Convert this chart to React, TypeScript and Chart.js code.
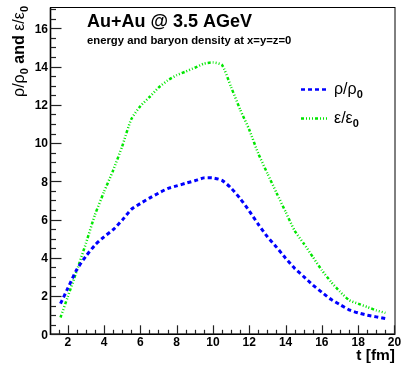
import { useEffect, useRef } from "react";
import { Chart, registerables } from "chart.js";

Chart.register(...registerables);

// time after first contact [fm]
const times = [
  1.6, 2, 2.5, 3, 3.5, 4, 4.5, 5, 5.5, 6, 6.5, 7, 7.5, 8, 8.5, 9, 9.5, 10,
  10.5, 11, 11.5, 12, 12.5, 13, 13.5, 14, 14.5, 15, 15.5, 16, 16.5, 17, 17.5,
  18, 18.5, 19, 19.5,
];
// baryon density rho/rho0 at x=y=z=0
const rhoRatio = [
  1.6, 2.4, 3.39, 4.08, 4.67, 5.1, 5.47, 5.97, 6.53, 6.84, 7.12, 7.38, 7.62,
  7.76, 7.9, 8.03, 8.18, 8.18, 8.05, 7.65, 7.1, 6.45, 5.75, 5.1, 4.56, 3.98,
  3.45, 3.02, 2.58, 2.2, 1.83, 1.55, 1.28, 1.12, 1.0, 0.91, 0.82,
];
// energy density eps/eps0 at x=y=z=0
const epsRatio = [
  0.88, 1.96, 3.33, 4.75, 6.25, 7.45, 8.57, 9.83, 11.25, 11.93, 12.4, 12.9,
  13.27, 13.55, 13.74, 13.94, 14.15, 14.22, 14.08, 12.93, 11.75, 10.7, 9.45,
  8.41, 7.4, 6.41, 5.42, 4.75, 4.05, 3.35, 2.75, 2.23, 1.79, 1.6, 1.43, 1.25,
  1.12,
];

const xTickValues = [2, 4, 6, 8, 10, 12, 14, 16, 18, 20];
const yTickValues = [0, 2, 4, 6, 8, 10, 12, 14, 16];
const minorStep = 0.5;

const titleText = "Au+Au @ 3.5 AGeV";
const subtitleText = "energy and baryon density at x=y=z=0";
const xAxisTitle = "t [fm]";

const FONT = '"Liberation Sans", Arial, Helvetica, sans-serif';

type Piece = { text: string; font: string; dy: number };

function pieceWidth(ctx: CanvasRenderingContext2D, pieces: Piece[]) {
  let w = 0;
  for (const p of pieces) {
    ctx.font = p.font;
    w += ctx.measureText(p.text).width;
  }
  return w;
}

function drawPieces(
  ctx: CanvasRenderingContext2D,
  pieces: Piece[],
  x: number,
  y: number
) {
  let cx = x;
  for (const p of pieces) {
    ctx.font = p.font;
    ctx.fillText(p.text, cx, y + p.dy);
    cx += ctx.measureText(p.text).width;
  }
}

const reg = (s: number) => `${s}px ${FONT}`;
const bold = (s: number) => `bold ${s}px ${FONT}`;

const rhoLabel: Piece[] = [
  { text: "ρ/ρ", font: reg(16), dy: 0 },
  { text: "0", font: bold(11), dy: 4 },
];
const epsLabel: Piece[] = [
  { text: "ε/ε", font: reg(16), dy: 0 },
  { text: "0", font: bold(11), dy: 4 },
];
const yTitle: Piece[] = [
  { text: "ρ/ρ", font: reg(16), dy: 0 },
  { text: "0", font: bold(11), dy: 4 },
  { text: " and ", font: bold(16), dy: 0 },
  { text: "ε/ε", font: reg(16), dy: 0 },
  { text: "0", font: bold(11), dy: 4 },
];

const framePlugin = {
  id: "rootFrame",
  afterDatasetsDraw(chart: any) {
    const ctx: CanvasRenderingContext2D = chart.ctx;
    const { left, right, top, bottom } = chart.chartArea;
    const xs = chart.scales.x;
    const ys = chart.scales.y;
    ctx.save();
    ctx.strokeStyle = "#000";
    ctx.fillStyle = "#000";

    // frame
    ctx.lineWidth = 1;
    ctx.strokeRect(left, top, right - left, bottom - top);
    ctx.lineWidth = 1.6;
    ctx.beginPath();
    ctx.moveTo(left, top);
    ctx.lineTo(left, bottom);
    ctx.lineTo(right, bottom);
    ctx.stroke();

    // y ticks (inside)
    ctx.lineWidth = 1.2;
    ctx.strokeStyle = "#222";
    for (let v = ys.min; v <= ys.max + 1e-9; v += minorStep) {
      const py = Math.round(ys.getPixelForValue(v)) + 0.5;
      const major = yTickValues.some((t) => Math.abs(t - v) < 1e-6);
      ctx.beginPath();
      ctx.moveTo(left, py);
      ctx.lineTo(left + (major ? 11 : 5.5), py);
      ctx.stroke();
    }
    // x ticks (inside)
    const x0 = Math.ceil(xs.min / minorStep) * minorStep;
    for (let v = x0; v <= xs.max + 1e-9; v += minorStep) {
      const px = Math.round(xs.getPixelForValue(v)) + 0.5;
      const major = xTickValues.some((t) => Math.abs(t - v) < 1e-6);
      ctx.beginPath();
      ctx.moveTo(px, bottom);
      ctx.lineTo(px, bottom - (major ? 9 : 4.5));
      ctx.stroke();
    }

    // tick labels
    ctx.fillStyle = "#000";
    ctx.font = bold(12);
    ctx.textAlign = "right";
    ctx.textBaseline = "alphabetic";
    for (const v of yTickValues) {
      ctx.fillText(String(v), left - 2.5, ys.getPixelForValue(v) + 4.3);
    }
    ctx.textAlign = "center";
    for (const v of xTickValues) {
      ctx.fillText(String(v), xs.getPixelForValue(v), bottom + 11.5);
    }

    // axis titles
    ctx.font = bold(15.5);
    ctx.textAlign = "right";
    ctx.fillText(xAxisTitle, right, 360);

    ctx.textAlign = "left";
    const tw = pieceWidth(ctx, yTitle);
    ctx.save();
    ctx.translate(24, 6 + tw);
    ctx.rotate(-Math.PI / 2);
    drawPieces(ctx, yTitle, 0, 0);
    ctx.restore();

    // title and subtitle
    ctx.font = bold(18);
    ctx.fillText(titleText, 87, 27);
    ctx.font = bold(11.3);
    ctx.fillText(subtitleText, 87, 44);

    // legend
    const ds = chart.data.datasets;
    const rows = [
      { y: 89.5, label: rhoLabel, set: ds[0] },
      { y: 118.5, label: epsLabel, set: ds[1] },
    ];
    for (const r of rows) {
      ctx.save();
      ctx.strokeStyle = r.set.borderColor;
      ctx.lineWidth = 2.5;
      ctx.setLineDash(r.set.borderDash);
      ctx.beginPath();
      ctx.moveTo(301, r.y);
      ctx.lineTo(328, r.y);
      ctx.stroke();
      ctx.restore();
      ctx.fillStyle = "#000";
      drawPieces(ctx, r.label, 334, r.y + 4.5);
    }
    ctx.restore();
  },
};

export default function App() {
  const canvasRef = useRef<HTMLCanvasElement | null>(null);

  useEffect(() => {
    const canvas = canvasRef.current;
    if (!canvas) return;
    const chart = new Chart(canvas, {
      type: "scatter",
      data: {
        datasets: [
          {
            label: "ρ/ρ0",
            data: times.map((t, i) => ({ x: t, y: rhoRatio[i] })),
            showLine: true,
            borderColor: "#0000ff",
            borderWidth: 3,
            borderDash: [4, 3],
            pointRadius: 0,
            tension: 0.2,
            fill: false,
          },
          {
            label: "ε/ε0",
            data: times.map((t, i) => ({ x: t, y: epsRatio[i] })),
            showLine: true,
            borderColor: "#00e600",
            borderWidth: 2.5,
            borderDash: [3, 2, 1, 2, 1, 2, 1, 2],
            pointRadius: 0,
            tension: 0.2,
            fill: false,
          },
        ],
      },
      options: {
        animation: false,
        responsive: false,
        maintainAspectRatio: false,
        layout: { padding: { left: 50.5, right: 7, top: 7.5, bottom: 30.7 } },
        scales: {
          x: { type: "linear", min: 1.05, max: 20.03, display: false },
          y: { type: "linear", min: 0, max: 17.09, display: false },
        },
        plugins: {
          legend: { display: false },
          tooltip: { enabled: false },
        },
      },
      plugins: [framePlugin],
    });
    return () => chart.destroy();
  }, []);

  return (
    <div
      style={{
        position: "absolute",
        left: 0,
        top: 0,
        width: 402,
        height: 365,
        background: "#fff",
      }}
    >
      <canvas
        ref={canvasRef}
        width={402}
        height={365}
        style={{ display: "block", width: 402, height: 365 }}
      />
    </div>
  );
}
